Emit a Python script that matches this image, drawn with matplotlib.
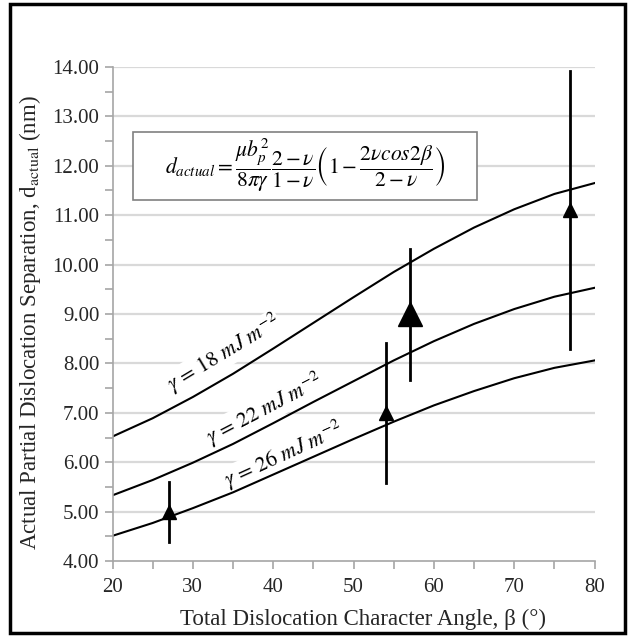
import matplotlib
matplotlib.use("Agg")
import matplotlib.pyplot as plt
from matplotlib.patches import Rectangle

plt.rcParams['font.family'] = ['Liberation Serif', 'DejaVu Serif']
plt.rcParams['mathtext.fontset'] = 'stix'

# curve values (beta in degrees, separation in nm)
beta = [20, 25, 30, 35, 40, 45, 50, 55, 60, 65, 70, 75, 80]
d_18 = [6.52, 6.89, 7.32, 7.79, 8.30, 8.82, 9.34, 9.85, 10.32, 10.75, 11.12, 11.43, 11.65]
d_22 = [5.33, 5.64, 5.99, 6.37, 6.79, 7.22, 7.64, 8.06, 8.45, 8.80, 9.10, 9.35, 9.53]
d_26 = [4.51, 4.77, 5.07, 5.39, 5.75, 6.11, 6.47, 6.82, 7.15, 7.44, 7.70, 7.91, 8.06]

# measured points with error bars
pt_beta = [27, 54, 57, 77]
pt_d = [5.0, 7.0, 9.0, 11.1]
pt_lo = [4.38, 5.58, 7.66, 8.29]
pt_hi = [5.60, 8.41, 10.31, 13.92]
pt_size = [10, 10, 17, 10]

fig = plt.figure(figsize=(6.3, 6.36), dpi=100)
ax = fig.add_axes([0.1786, 0.1179, 0.7652, 0.7768])

for yv in range(5, 15):
    ax.axhline(yv, color='#d9d9d9', lw=1.6, zorder=0)

for ys in (d_18, d_22, d_26):
    ax.plot(beta, ys, color='black', lw=1.5, zorder=2)

for b, d, lo, hi, s in zip(pt_beta, pt_d, pt_lo, pt_hi, pt_size):
    ax.plot([b, b], [lo, hi], color='black', lw=2, zorder=3)
    ax.plot(b, d, marker='^', color='black', markersize=s, zorder=4)

lbl = dict(fontsize=15.5, ha='center', va='center', rotation_mode='anchor',
           bbox=dict(facecolor='white', edgecolor='none', pad=0.3), zorder=1)
ax.text(33.9, 8.2, r'$\gamma\, =\, 18\ mJ\ m^{-2}$', rotation=31, **lbl)
ax.text(38.9, 7.08, r'$\gamma\, =\, 22\ mJ\ m^{-2}$', rotation=27.5, **lbl)
ax.text(41.3, 6.14, r'$\gamma\, =\, 26\ mJ\ m^{-2}$', rotation=24.5, **lbl)

ax.add_patch(Rectangle((22.5, 11.31), 42.9, 1.38, facecolor='white',
                       edgecolor='#808080', lw=1.2, zorder=5))
ax.text(44.0, 12.0,
        r'$d_{actual} = \dfrac{\mu b_p^2}{8\pi\gamma}\dfrac{2-\nu}{1-\nu}'
        r'\left(1 - \dfrac{2\nu cos2\beta}{2-\nu}\right)$',
        fontsize=15.5, ha='center', va='center', zorder=6)

ax.set_xlim(20, 80)
ax.set_ylim(4, 14)
ax.set_xticks(range(20, 81, 10))
ax.set_xticks(range(20, 81, 5), minor=True)
ax.set_yticks(range(4, 15))
ax.set_yticks([v + 0.5 for v in range(4, 14)], minor=True)
ax.set_yticklabels(['%.2f' % v for v in range(4, 15)])

for side in ('top', 'right'):
    ax.spines[side].set_visible(False)
for side in ('left', 'bottom'):
    ax.spines[side].set_color('#a6a6a6')
    ax.spines[side].set_linewidth(1.2)
ax.tick_params(which='both', direction='out', color='#a6a6a6', width=1.2,
               labelsize=15, labelcolor='#262626', length=6)
ax.tick_params(axis='x', pad=6)

ax.set_xlabel(r'Total Dislocation Character Angle, β (°)', fontsize=16.5,
              color='#262626')
ax.set_ylabel(r'Actual Partial Dislocation Separation, d$_{\mathrm{actual}}$ (nm)',
              fontsize=16.5, color='#262626')
ax.xaxis.set_label_coords(0.52, -0.097)
ax.yaxis.set_label_coords(-0.145, 0.482)

fig.patches.append(Rectangle((0.016, 0.005), 0.976, 0.989, transform=fig.transFigure,
                             fill=False, edgecolor='black', lw=2.5))

fig.savefig('out.png', dpi=100, facecolor='white')
